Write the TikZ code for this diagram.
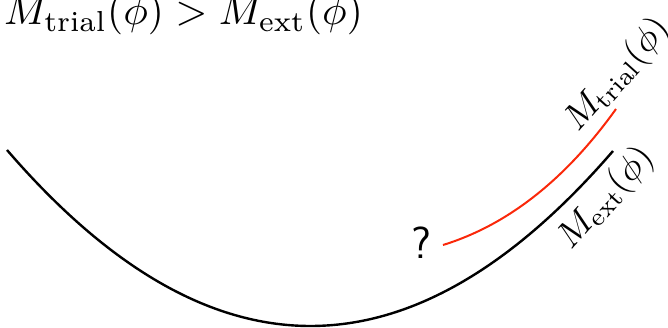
\documentclass[tikz,border=0pt]{standalone}
\usepackage{amsmath}
\usepackage{graphicx}
\definecolor{trialred}{RGB}{250,40,10}
\newcommand{\bigmath}[1]{\scalebox{4.13}{\fontsize{10}{12}\selectfont$#1$}}
\newcommand{\sidemath}[1]{\scalebox{3.6}{\fontsize{10}{12}\selectfont$#1$}}
\begin{document}
\begin{tikzpicture}[x=1pt,y=1pt,
  curveblack/.style={line width=2.4pt,black},
  curvered/.style={line width=2pt,trialred},
  biglabel/.style={inner sep=0pt},
  sidelabel/.style={inner sep=0pt,anchor=base west,rotate=48},
  qmark/.style={inner sep=0pt,font=\sffamily\fontsize{45}{50}\selectfont}]
\useasboundingbox (0,0) rectangle (668,328);
\coordinate (b0) at (7,178);
\coordinate (b1) at (613,177);
\coordinate (r0) at (443,83);
\coordinate (r1) at (616,219);
\draw[curveblack] (b0) .. controls (209,-56.3) and (411,-56.7) .. (b1);
\draw[curvered] (r0) .. controls (507.7,103) and (565.3,148.3) .. (r1);
\node[biglabel,anchor=base west] (top) at (4,303) {\bigmath{M_{\text{trial}}(\phi) > M_{\text{ext}}(\phi)}};
\node[sidelabel] (ext) at (571,77) {\sidemath{M_{\text{ext}}(\phi)}};
\node[sidelabel] (trial) at (578,195) {\sidemath{M_{\text{trial}}(\phi)}};
\node[qmark,anchor=base] (q) at (421.5,69) {?};
\end{tikzpicture}
\end{document}
